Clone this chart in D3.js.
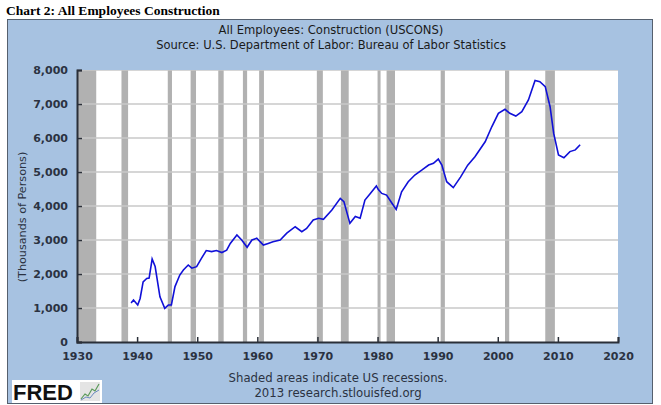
<!DOCTYPE html>
<html><head><meta charset="utf-8">
<script src="https://cdn.jsdelivr.net/npm/d3@7"></script>
<style>
html,body{margin:0;padding:0;background:#fff;}
svg{display:block;}
</style></head>
<body>
<svg id="c" width="661" height="405"></svg>
<script>
const years = [1939.0,1939.4,1940.1,1940.5,1941.0,1941.6,1942.0,1942.5,1943.0,1943.8,1944.6,1945.2,1945.7,1946.3,1947.1,1947.7,1948.5,1949.1,1949.9,1950.7,1951.5,1952.4,1953.2,1954.1,1954.9,1955.5,1956.6,1957.4,1958.3,1959.1,1959.9,1961.0,1961.8,1962.6,1963.8,1964.9,1966.3,1967.4,1968.2,1969.3,1970.2,1971.0,1972.4,1973.8,1974.4,1975.4,1976.3,1977.1,1977.9,1978.8,1979.8,1980.1,1980.7,1981.5,1982.4,1983.1,1984.0,1985.1,1986.2,1987.4,1988.5,1989.3,1990.1,1990.7,1991.5,1992.6,1993.8,1995.0,1996.2,1997.9,1999.0,2000.1,2001.2,2002.0,2003.0,2004.0,2005.1,2006.2,2007.0,2007.9,2008.7,2009.3,2010.1,2011.0,2012.0,2012.9,2013.7];
const employees = [1150,1235,1090,1280,1770,1870,1880,2440,2220,1330,990,1090,1090,1630,1970,2120,2265,2170,2215,2460,2690,2660,2690,2630,2700,2900,3150,3000,2785,3000,3050,2850,2900,2950,3000,3200,3390,3245,3340,3590,3640,3610,3880,4225,4130,3490,3690,3640,4175,4370,4590,4490,4370,4320,4080,3900,4420,4715,4910,5060,5205,5255,5380,5205,4715,4540,4850,5200,5450,5890,6330,6725,6845,6725,6645,6775,7120,7690,7655,7510,6920,6135,5500,5420,5600,5650,5800];
const recessionStart = [1929.6,1937.4,1945.1,1948.9,1953.5,1957.6,1960.3,1969.9,1973.9,1980.0,1981.5,1990.5,2001.2,2007.9];
const recessionEnd   = [1933.2,1938.5,1945.8,1949.8,1954.4,1958.3,1961.1,1970.9,1975.2,1980.5,1982.9,1991.2,2001.9,2009.5];
const xTicks = [1930,1940,1950,1960,1970,1980,1990,2000,2010,2020];
const yTicks = [0,1000,2000,3000,4000,5000,6000,7000,8000];

const svg = d3.select("#c");
const L = 77, R = 618, T = 70, B = 342;
const x = d3.scaleLinear().domain([1930,2020]).range([L,R]);
const y = d3.scaleLinear().domain([0,8000]).range([B,T]);

// header
svg.append("text").attr("x",6).attr("y",15).attr("font-family","Liberation Serif, Times New Roman, serif")
  .attr("font-weight","bold").attr("font-size",13.5).attr("fill","#000").text("Chart 2: All Employees Construction");

// panel
svg.append("rect").attr("x",7.5).attr("y",19.5).attr("width",645).attr("height",384)
  .attr("fill","#a7c2e1").attr("stroke","#55606e").attr("stroke-width",1);

const ff = "DejaVu Sans, Verdana, sans-serif";
svg.append("text").attr("x",331).attr("y",34).attr("text-anchor","middle").attr("font-family",ff)
  .attr("font-size",11.6).attr("fill","#1a1a1a").text("All Employees: Construction (USCONS)");
svg.append("text").attr("x",331).attr("y",49).attr("text-anchor","middle").attr("font-family",ff)
  .attr("font-size",11.5).attr("fill","#1a1a1a").text("Source: U.S. Department of Labor: Bureau of Labor Statistics");

// plot bg
svg.append("rect").attr("x",L).attr("y",T).attr("width",R-L).attr("height",B-T).attr("fill","#fff");

svg.append("clipPath").attr("id","pc").append("rect").attr("x",L).attr("y",T).attr("width",R-L).attr("height",B-T);
const g = svg.append("g").attr("clip-path","url(#pc)");

// recessions
g.selectAll("rect.rec").data(recessionStart).join("rect").attr("class","rec")
  .attr("x",(d)=>x(d)).attr("width",(d,i)=>x(recessionEnd[i])-x(d))
  .attr("y",T).attr("height",B-T).attr("fill","#b1b1b1");

// grid
g.selectAll("line.grid").data(yTicks.slice(1)).join("line").attr("class","grid")
  .attr("x1",L).attr("x2",R).attr("y1",d=>y(d)).attr("y2",d=>y(d))
  .attr("stroke","#c9c9c9").attr("stroke-width",1.5);

// line
const line = d3.line().x((d,i)=>x(years[i])).y(d=>y(d));
g.append("path").datum(employees).attr("d",line).attr("fill","none")
  .attr("stroke","#1010d8").attr("stroke-width",1.6);

// axes
const yAxis = d3.axisLeft(y).tickValues(yTicks).tickSize(-5).tickPadding(9).tickFormat(d3.format(","));
const ya = svg.append("g").attr("transform",`translate(${L},0)`).call(yAxis);
const xAxis = d3.axisBottom(x).tickValues(xTicks).tickSize(-5).tickPadding(10).tickFormat(d3.format("d"));
const xa = svg.append("g").attr("transform",`translate(0,${B})`).call(xAxis);
[ya,xa].forEach(a=>{
  a.select(".domain").attr("stroke","#2a2f38").attr("stroke-width",2);
  a.selectAll(".tick line").attr("stroke","#2a2f38").attr("stroke-width",1.5);
  a.selectAll(".tick text").attr("font-family",ff).attr("font-weight","bold").attr("font-size",11).attr("fill","#2b3242");
});

// y title
svg.append("text").attr("transform","translate(26,217) rotate(-90)").attr("text-anchor","middle")
  .attr("font-family",ff).attr("font-size",11.2).attr("fill","#2b3242").text("(Thousands of Persons)");

// footer
svg.append("text").attr("x",338).attr("y",382).attr("text-anchor","middle").attr("font-family",ff)
  .attr("font-size",11.7).attr("fill","#2b3242").text("Shaded areas indicate US recessions.");
svg.append("text").attr("x",338).attr("y",397).attr("text-anchor","middle").attr("font-family",ff)
  .attr("font-size",11.7).attr("fill","#2b3242").text("2013 research.stlouisfed.org");

// FRED logo
const lg = svg.append("g");
lg.append("rect").attr("x",12).attr("y",380).attr("width",90).attr("height",23).attr("fill","#fff");
lg.append("text").attr("x",13).attr("y",400).attr("font-family","Liberation Sans, Arial, sans-serif")
  .attr("font-weight","bold").attr("font-size",22).attr("fill","#111").text("FRED");
lg.append("rect").attr("x",80).attr("y",382).attr("width",20).attr("height",19).attr("fill","#e4e4e4");
lg.append("path").attr("d","M81,399 L85,394 L88,396 L92,389 L95,391 L99,384").attr("fill","none").attr("stroke","#5a9a5a").attr("stroke-width",1.2);
lg.append("path").attr("d","M81,400 L86,397 L90,398 L94,393 L99,390").attr("fill","none").attr("stroke","#6a8ac0").attr("stroke-width",1);
</script>
</body></html>
